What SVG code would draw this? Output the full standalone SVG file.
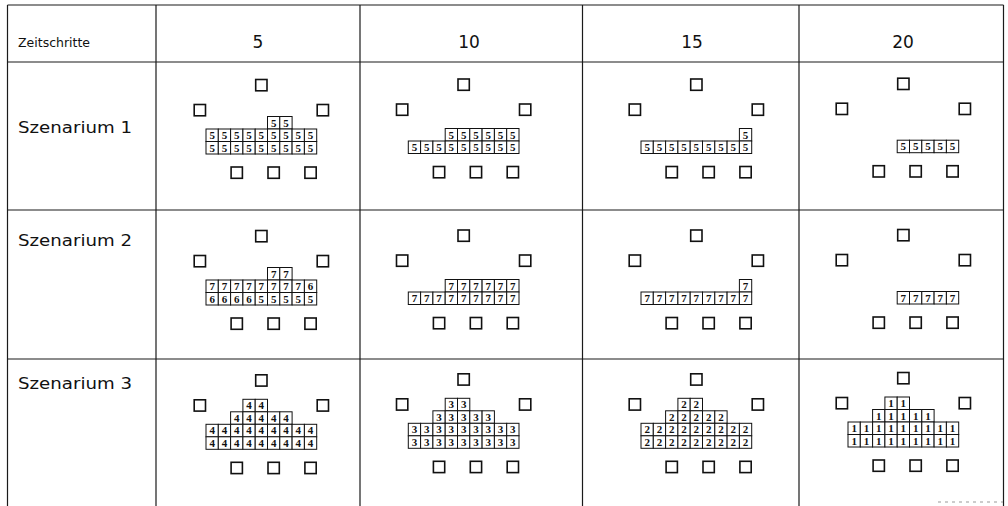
<svg xmlns="http://www.w3.org/2000/svg" xmlns:xlink="http://www.w3.org/1999/xlink" width="1008" height="506" viewBox="0 0 1008 506">
<style>
.tbl{stroke:#1a1a1a;stroke-width:1.2;fill:none}
.box{fill:#fff;stroke:#111;stroke-width:1.6}
.c{fill:#fff;stroke:#111;stroke-width:1}
.n{font-family:"Liberation Serif",serif;font-weight:bold;font-size:11px;text-anchor:middle;fill:#111}
.hd{font-family:"DejaVu Sans",sans-serif;fill:#111}
.lbl{font-size:12.5px}
.num{font-size:17px;text-anchor:middle}
.row{font-size:16px}
.scan{stroke:#999;stroke-width:1;stroke-dasharray:3 4;fill:none}
</style>
<defs>
<g id="room">
<rect class="box" x="49.7" y="0.5" width="11.3" height="11.3"/>
<rect class="box" x="-11.8" y="25.5" width="11.3" height="11.3"/>
<rect class="box" x="111.2" y="25.5" width="11.3" height="11.3"/>
<rect class="box" x="25.1" y="88" width="11.3" height="11.3"/>
<rect class="box" x="62" y="88" width="11.3" height="11.3"/>
<rect class="box" x="98.9" y="88" width="11.3" height="11.3"/>
</g>
<rect id="cell" class="c" width="12.3" height="12.5"/>
<g id="r9">
<use href="#cell" x="0"/><use href="#cell" x="12.3"/><use href="#cell" x="24.6"/><use href="#cell" x="36.9"/><use href="#cell" x="49.2"/><use href="#cell" x="61.5"/><use href="#cell" x="73.8"/><use href="#cell" x="86.1"/><use href="#cell" x="98.4"/>
</g>
<g id="r6">
<use href="#cell" x="36.9"/><use href="#cell" x="49.2"/><use href="#cell" x="61.5"/><use href="#cell" x="73.8"/><use href="#cell" x="86.1"/><use href="#cell" x="98.4"/>
</g>
<g id="r5a">
<use href="#cell" x="49.2"/><use href="#cell" x="61.5"/><use href="#cell" x="73.8"/><use href="#cell" x="86.1"/><use href="#cell" x="98.4"/>
</g>
<g id="r5b">
<use href="#cell" x="24.6"/><use href="#cell" x="36.9"/><use href="#cell" x="49.2"/><use href="#cell" x="61.5"/><use href="#cell" x="73.8"/>
</g>
<g id="r2a"><use href="#cell" x="61.5"/><use href="#cell" x="73.8"/></g>
<g id="r2b"><use href="#cell" x="36.9"/><use href="#cell" x="49.2"/></g>
<g id="r1"><use href="#cell" x="98.4"/></g>
</defs>

<g id="table">
<line class="tbl" x1="7.5" y1="5" x2="1003.5" y2="5"/>
<line class="tbl" x1="7.5" y1="62" x2="1003.5" y2="62"/>
<line class="tbl" x1="7.5" y1="210" x2="1003.5" y2="210"/>
<line class="tbl" x1="7.5" y1="359" x2="1003.5" y2="359"/>
<line class="tbl" x1="7.5" y1="5" x2="7.5" y2="506"/>
<line class="tbl" x1="156" y1="5" x2="156" y2="506"/>
<line class="tbl" x1="360" y1="5" x2="360" y2="506"/>
<line class="tbl" x1="582.5" y1="5" x2="582.5" y2="506"/>
<line class="tbl" x1="799" y1="5" x2="799" y2="506"/>
<line class="tbl" x1="1003.5" y1="5" x2="1003.5" y2="506"/>
<line class="scan" x1="938" y1="502" x2="1003" y2="502"/>
</g>

<g id="header">
<text class="hd lbl" x="18" y="47">Zeitschritte</text>
<text class="hd num" x="258" y="48">5</text>
<text class="hd num" x="469" y="48">10</text>
<text class="hd num" x="692" y="48">15</text>
<text class="hd num" x="903" y="48">20</text>
</g>

<g id="labels">
<text class="hd row" x="18" y="133" textLength="114" lengthAdjust="spacingAndGlyphs">Szenarium 1</text>
<text class="hd row" x="18" y="246" textLength="114" lengthAdjust="spacingAndGlyphs">Szenarium 2</text>
<text class="hd row" x="18" y="389" textLength="114" lengthAdjust="spacingAndGlyphs">Szenarium 3</text>
</g>

<g id="s1c5" transform="translate(206,79)">
<use href="#room"/>
<use href="#r2a" y="37.5"/><use href="#r9" y="50"/><use href="#r9" y="62.5"/>
<text class="n" x="67.65 79.95" y="47.5">55</text>
<text class="n" x="6.15 18.45 30.75 43.05 55.35 67.65 79.95 92.25 104.55" y="60">555555555</text>
<text class="n" x="6.15 18.45 30.75 43.05 55.35 67.65 79.95 92.25 104.55" y="72.5">555555555</text>
</g>
<g id="s1c10" transform="translate(408.3,78.5)">
<use href="#room"/>
<use href="#r6" y="50"/><use href="#r9" y="62.5"/>
<text class="n" x="43.05 55.35 67.65 79.95 92.25 104.55" y="60">555555</text>
<text class="n" x="6.15 18.45 30.75 43.05 55.35 67.65 79.95 92.25 104.55" y="72.5">555555555</text>
</g>
<g id="s1c15" transform="translate(641,78.5)">
<use href="#room"/>
<use href="#r1" y="50"/><use href="#r9" y="62.5"/>
<text class="n" x="104.55" y="60">5</text>
<text class="n" x="6.15 18.45 30.75 43.05 55.35 67.65 79.95 92.25 104.55" y="72.5">555555555</text>
</g>
<g id="s1c20" transform="translate(848,77.7)">
<use href="#room"/>
<use href="#r5a" y="62.5"/>
<text class="n" x="55.35 67.65 79.95 92.25 104.55" y="72.5">55555</text>
</g>

<g id="s2c5" transform="translate(206,230)">
<use href="#room"/>
<use href="#r2a" y="37.5"/><use href="#r9" y="50"/><use href="#r9" y="62.5"/>
<text class="n" x="67.65 79.95" y="47.5">77</text>
<text class="n" x="6.15 18.45 30.75 43.05 55.35 67.65 79.95 92.25 104.55" y="60">777777776</text>
<text class="n" x="6.15 18.45 30.75 43.05 55.35 67.65 79.95 92.25 104.55" y="72.5">666655555</text>
</g>
<g id="s2c10" transform="translate(408.3,229.5)">
<use href="#room"/>
<use href="#r6" y="50"/><use href="#r9" y="62.5"/>
<text class="n" x="43.05 55.35 67.65 79.95 92.25 104.55" y="60">777777</text>
<text class="n" x="6.15 18.45 30.75 43.05 55.35 67.65 79.95 92.25 104.55" y="72.5">777777777</text>
</g>
<g id="s2c15" transform="translate(641,229.5)">
<use href="#room"/>
<use href="#r1" y="50"/><use href="#r9" y="62.5"/>
<text class="n" x="104.55" y="60">7</text>
<text class="n" x="6.15 18.45 30.75 43.05 55.35 67.65 79.95 92.25 104.55" y="72.5">777777777</text>
</g>
<g id="s2c20" transform="translate(848,229)">
<use href="#room"/>
<use href="#r5a" y="62.5"/>
<text class="n" x="55.35 67.65 79.95 92.25 104.55" y="72.5">77777</text>
</g>

<g id="s3c5" transform="translate(206,374.3)">
<use href="#room"/>
<use href="#r2b" y="25"/><use href="#r5b" y="37.5"/><use href="#r9" y="50"/><use href="#r9" y="62.5"/>
<text class="n" x="43.05 55.35" y="35">44</text>
<text class="n" x="30.75 43.05 55.35 67.65 79.95" y="47.5">44444</text>
<text class="n" x="6.15 18.45 30.75 43.05 55.35 67.65 79.95 92.25 104.55" y="60">444444444</text>
<text class="n" x="6.15 18.45 30.75 43.05 55.35 67.65 79.95 92.25 104.55" y="72.5">444444444</text>
</g>
<g id="s3c10" transform="translate(408.3,373.3)">
<use href="#room"/>
<use href="#r2b" y="25"/><use href="#r5b" y="37.5"/><use href="#r9" y="50"/><use href="#r9" y="62.5"/>
<text class="n" x="43.05 55.35" y="35">33</text>
<text class="n" x="30.75 43.05 55.35 67.65 79.95" y="47.5">33333</text>
<text class="n" x="6.15 18.45 30.75 43.05 55.35 67.65 79.95 92.25 104.55" y="60">333333333</text>
<text class="n" x="6.15 18.45 30.75 43.05 55.35 67.65 79.95 92.25 104.55" y="72.5">333333333</text>
</g>
<g id="s3c15" transform="translate(641,373.3)">
<use href="#room"/>
<use href="#r2b" y="25"/><use href="#r5b" y="37.5"/><use href="#r9" y="50"/><use href="#r9" y="62.5"/>
<text class="n" x="43.05 55.35" y="35">22</text>
<text class="n" x="30.75 43.05 55.35 67.65 79.95" y="47.5">22222</text>
<text class="n" x="6.15 18.45 30.75 43.05 55.35 67.65 79.95 92.25 104.55" y="60">222222222</text>
<text class="n" x="6.15 18.45 30.75 43.05 55.35 67.65 79.95 92.25 104.55" y="72.5">222222222</text>
</g>
<g id="s3c20" transform="translate(848,372)">
<use href="#room"/>
<use href="#r2b" y="25"/><use href="#r5b" y="37.5"/><use href="#r9" y="50"/><use href="#r9" y="62.5"/>
<text class="n" x="43.05 55.35" y="35">11</text>
<text class="n" x="30.75 43.05 55.35 67.65 79.95" y="47.5">11111</text>
<text class="n" x="6.15 18.45 30.75 43.05 55.35 67.65 79.95 92.25 104.55" y="60">111111111</text>
<text class="n" x="6.15 18.45 30.75 43.05 55.35 67.65 79.95 92.25 104.55" y="72.5">111111111</text>
</g>
</svg>
